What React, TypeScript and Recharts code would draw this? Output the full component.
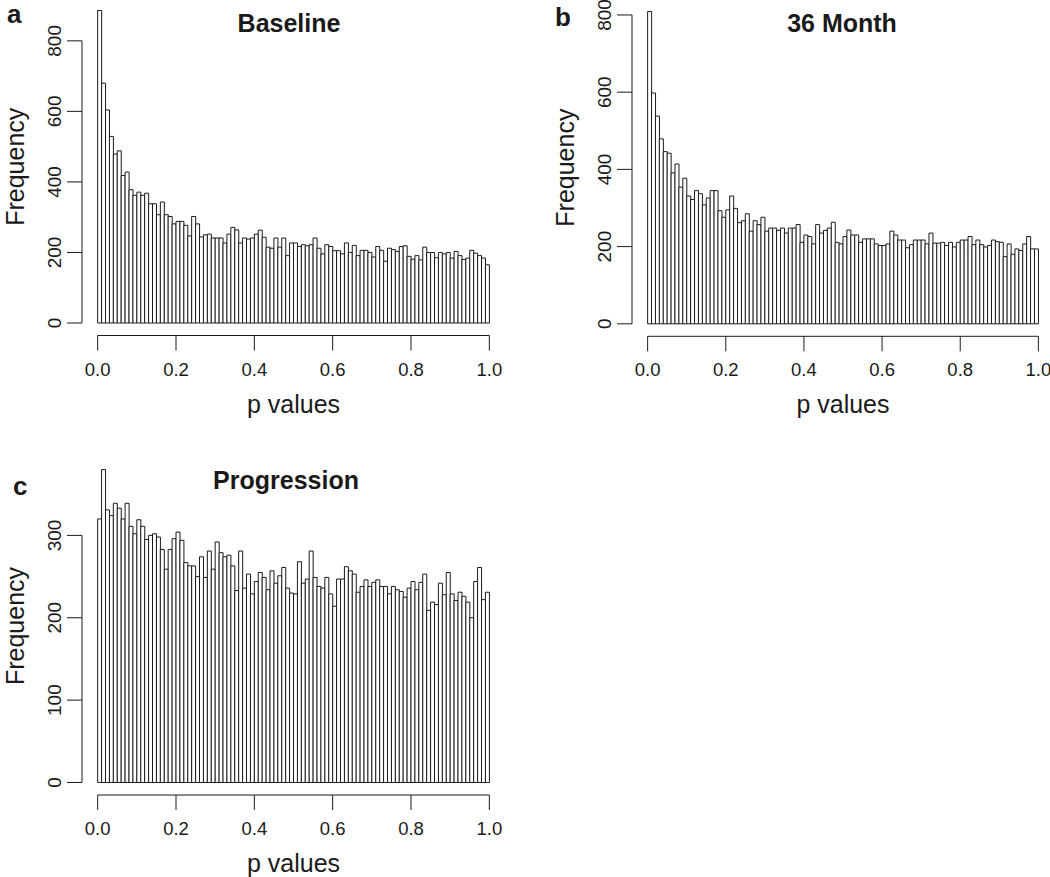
import React from "react";
import { Bar, BarChart, ReferenceLine, XAxis, YAxis } from "recharts";

// bin midpoints of the 100 histogram bins (width 0.01)
const binMids = Array.from({ length: 100 }, (_, i) => Number((i * 0.01 + 0.005).toFixed(3)));

const baselineCounts = [
  886, 680, 604, 529, 479, 488, 418, 428, 378, 362,
  371, 362, 368, 338, 338, 307, 343, 307, 302, 281,
  288, 288, 277, 247, 302, 281, 244, 250, 252, 241,
  241, 241, 227, 252, 271, 264, 227, 241, 238, 241,
  252, 263, 243, 215, 212, 241, 215, 241, 191, 227,
  227, 217, 222, 219, 222, 241, 212, 196, 222, 217,
  205, 205, 196, 227, 200, 220, 191, 206, 206, 200,
  187, 217, 206, 175, 212, 208, 203, 217, 219, 189,
  181, 191, 179, 215, 200, 200, 185, 200, 196, 200,
  184, 203, 191, 180, 184, 206, 198, 191, 184, 165,
];

const month36Counts = [
  809, 598, 538, 479, 446, 442, 391, 414, 354, 377,
  331, 322, 345, 337, 308, 326, 345, 345, 293, 276,
  295, 331, 299, 262, 267, 285, 240, 267, 257, 276,
  240, 248, 248, 242, 248, 235, 248, 248, 257, 211,
  230, 226, 207, 257, 235, 242, 248, 263, 211, 207,
  226, 243, 230, 230, 211, 220, 220, 220, 207, 203,
  203, 207, 240, 230, 217, 217, 197, 205, 217, 217,
  217, 207, 235, 209, 209, 211, 203, 211, 199, 211,
  217, 217, 226, 205, 217, 205, 199, 203, 217, 213,
  211, 174, 207, 180, 194, 190, 207, 226, 194, 194,
];

const progressionCounts = [
  320, 380, 331, 324, 339, 333, 320, 339, 311, 302,
  319, 311, 295, 300, 302, 298, 283, 259, 283, 296,
  304, 294, 267, 263, 263, 250, 274, 249, 281, 259,
  292, 279, 274, 276, 263, 233, 281, 236, 253, 229,
  244, 255, 249, 234, 257, 242, 251, 261, 236, 230,
  229, 268, 242, 247, 281, 249, 238, 236, 249, 229,
  214, 247, 247, 262, 257, 253, 231, 238, 246, 238,
  243, 246, 238, 238, 229, 238, 234, 232, 225, 236,
  244, 234, 243, 253, 209, 219, 216, 242, 228, 255,
  229, 221, 231, 226, 219, 200, 244, 261, 222, 231,
];

const xTicks = [0, 0.2, 0.4, 0.6, 0.8, 1];
const baselineTicks = [0, 200, 400, 600, 800];
const month36Ticks = [0, 200, 400, 600, 800];
const progressionTicks = [0, 100, 200, 300];

const FONT = '"Liberation Sans", Arial, Helvetica, sans-serif';
const INK = "#1a1a1a";
const Y_AXIS_W = 82;
const X_AXIS_H = 90;
const TOP_PAD = 20;
const RIGHT_PAD = 10;

type PanelProps = {
  counts: number[];
  yTicks: number[];
  plotLeft: number;
  plotTop: number;
  plotW: number;
  plotH: number;
};

const XTick = ({ x, y, payload }: any) => (
  <text x={x} y={y} dy="0.71em" textAnchor="middle" fontSize={18.5} fill={INK} fontFamily={FONT}>
    {Number(payload.value).toFixed(1)}
  </text>
);

const YTick = ({ x, y, payload }: any) => (
  <text
    x={x}
    y={y}
    transform={`rotate(-90, ${x}, ${y})`}
    textAnchor="middle"
    fontSize={19}
    fill={INK}
    fontFamily={FONT}
  >
    {payload.value}
  </text>
);

function Histogram({ counts, yTicks, plotLeft, plotTop, plotW, plotH }: PanelProps) {
  const data = binMids.map((x, i) => ({ x, count: counts[i] }));
  const ymax = Math.max(...counts);
  const yMin = -0.04 * ymax;
  const yMaxDom = 1.04 * ymax;
  const width = Y_AXIS_W + plotW + RIGHT_PAD;
  const height = TOP_PAD + plotH + X_AXIS_H;

  return (
    <div style={{ position: "absolute", left: plotLeft - Y_AXIS_W, top: plotTop - TOP_PAD }}>
      <BarChart
        width={width}
        height={height}
        data={data}
        margin={{ top: TOP_PAD, right: RIGHT_PAD, left: 0, bottom: 0 }}
        barCategoryGap={0}
        barGap={0}
      >
        <XAxis
          dataKey="x"
          type="number"
          domain={[-0.04, 1.04]}
          allowDataOverflow
          ticks={xTicks}
          interval={0}
          height={X_AXIS_H}
          axisLine={false}
          tickLine={{ stroke: INK, strokeWidth: 1 }}
          tickSize={15}
          tickMargin={12}
          tick={<XTick />}
          label={(props: any) => {
            const vb = props.viewBox;
            return (
              <text
                x={vb.x + vb.width / 2}
                y={vb.y + 77}
                textAnchor="middle"
                fontSize={25}
                fill={INK}
                fontFamily={FONT}
              >
                p values
              </text>
            );
          }}
        />
        <YAxis
          type="number"
          domain={[yMin, yMaxDom]}
          allowDataOverflow
          ticks={yTicks}
          interval={0}
          width={Y_AXIS_W}
          axisLine={false}
          tickLine={{ stroke: INK, strokeWidth: 1 }}
          tickSize={15}
          tickMargin={6}
          tick={<YTick />}
          label={(props: any) => {
            const vb = props.viewBox;
            const lx = vb.x + 24;
            const ly = vb.y + vb.height / 2;
            return (
              <text
                x={lx}
                y={ly}
                transform={`rotate(-90, ${lx}, ${ly})`}
                textAnchor="middle"
                fontSize={25}
                fill={INK}
                fontFamily={FONT}
              >
                Frequency
              </text>
            );
          }}
        />
        <Bar dataKey="count" fill="#ffffff" stroke={INK} strokeWidth={1} isAnimationActive={false} />
        <ReferenceLine
          segment={[{ x: 0, y: yMin }, { x: 1, y: yMin }]}
          stroke={INK}
          strokeWidth={1}
          ifOverflow="visible"
        />
        <ReferenceLine
          segment={[{ x: -0.04, y: 0 }, { x: -0.04, y: yTicks[yTicks.length - 1] }]}
          stroke={INK}
          strokeWidth={1}
          ifOverflow="visible"
        />
      </BarChart>
    </div>
  );
}

const textBox = (left: number, top: number, width: number, size: number, align: "left" | "center") => ({
  position: "absolute" as const,
  left,
  top,
  width,
  fontSize: size,
  lineHeight: 1,
  fontWeight: 700,
  fontFamily: FONT,
  color: INK,
  textAlign: align,
});

export default function App() {
  return (
    <div
      style={{
        position: "fixed",
        left: 0,
        top: 0,
        width: 1050,
        height: 877,
        overflow: "hidden",
        background: "#ffffff",
      }}
    >
      <Histogram counts={baselineCounts} yTicks={baselineTicks} plotLeft={82} plotTop={-1.7} plotW={423} plotH={337.5} />
      <Histogram counts={month36Counts} yTicks={month36Ticks} plotLeft={632} plotTop={-1.5} plotW={422} plotH={337.3} />
      <Histogram counts={progressionCounts} yTicks={progressionTicks} plotLeft={82} plotTop={457} plotW={423} plotH={338} />

      <div style={textBox(189, 11, 200, 25, "center")}>Baseline</div>
      <div style={textBox(742, 11, 200, 25, "center")}>36 Month</div>
      <div style={textBox(186, 468, 200, 25, "center")}>Progression</div>

      <div style={textBox(7, 1, 30, 26, "left")}>a</div>
      <div style={textBox(555, 4, 30, 26, "left")}>b</div>
      <div style={textBox(13, 473, 30, 26, "left")}>c</div>
    </div>
  );
}
